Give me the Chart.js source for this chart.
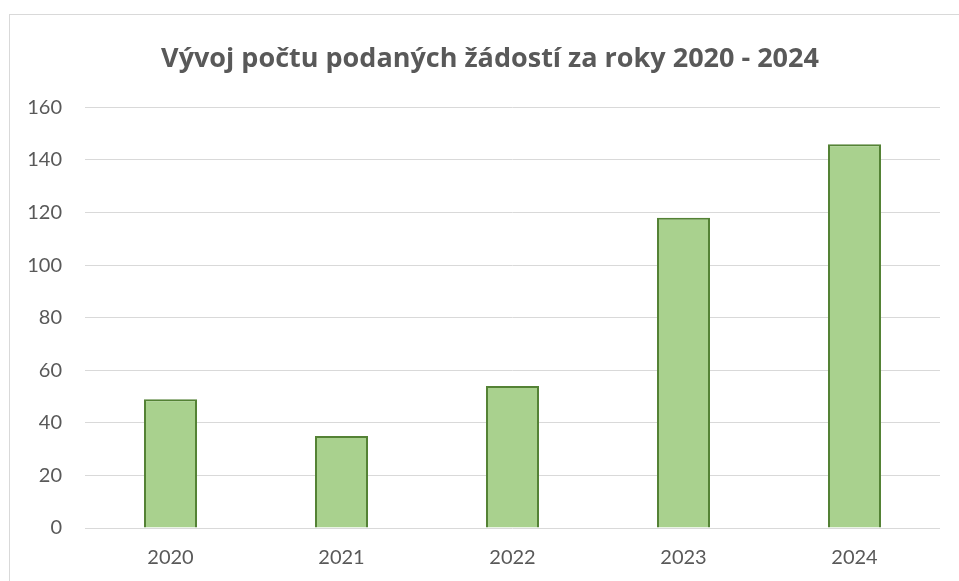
<!DOCTYPE html>
<html lang="cs">
<head>
  <meta charset="UTF-8" />
  <title>Vývoj počtu podaných žádostí</title>
  <script src="https://cdn.jsdelivr.net/npm/chart.js"></script>
  <style>
    body {
      margin: 0;
      background: #fff;
      overflow: hidden;
    }
    .frame {
      position: absolute;
      left: 9px;
      top: 14px;
      width: 1000px;
      height: 1000px;
      border: 1px solid #d9d9d9;
    }
    .chart-container {
      position: absolute;
      left: 0;
      top: 0;
      width: 959px;
      height: 581px;
    }
  </style>
</head>
<body>
  <div class="frame"></div>
  <div class="chart-container">
    <canvas id="zadostiChart"></canvas>
  </div>

  <script>
    const years = ['2020', '2021', '2022', '2023', '2024'];
    const requests = [49, 35, 54, 118, 146];

    const textColor = '#595959';
    const gridColor = '#d9d9d9';
    const tickFont = { family: 'Lato, "Open Sans", sans-serif', size: 20 };

    const ctx = document.getElementById('zadostiChart').getContext('2d');

    const chart = new Chart(ctx, {
      type: 'bar',
      data: {
        labels: years,
        datasets: [{
          label: 'Počet žádostí',
          data: requests,
          backgroundColor: '#a9d18e',
          borderColor: '#548235',
          borderWidth: 2,
          categoryPercentage: 1,
          barPercentage: 0.31
        }]
      },
      options: {
        responsive: true,
        maintainAspectRatio: false,
        animation: false,
        layout: {
          // title is centred on the frame, not on the plot
          padding: { left: 21, right: 0, top: 0, bottom: 0 }
        },
        plugins: {
          legend: { display: false },
          tooltip: { enabled: false },
          title: {
            display: true,
            text: 'Vývoj počtu podaných žádostí za roky 2020 - 2024',
            color: textColor,
            font: { family: '"Open Sans", Lato, sans-serif', size: 27, weight: 'bold', lineHeight: 1.2 },
            padding: { top: 43, bottom: 32 }
          }
        },
        scales: {
          x: {
            grid: { display: false, drawTicks: false },
            border: { display: false },
            ticks: {
              color: textColor,
              font: tickFont,
              padding: 18
            },
            afterFit: function(scale) { scale.height = 53; }
          },
          y: {
            min: 0,
            max: 160,
            grid: { color: gridColor, lineWidth: 1, drawTicks: false },
            border: { display: false },
            ticks: {
              stepSize: 20,
              color: textColor,
              font: tickFont,
              padding: 23
            },
            afterFit: function(scale) { scale.width = 64; }
          },
          // empty spacer on the right
          yRight: {
            position: 'right',
            grid: { display: false, drawTicks: false },
            border: { display: false },
            ticks: { display: false },
            afterFit: function(scale) { scale.width = 19; }
          }
        }
      }
    });
  </script>
</body>
</html>
